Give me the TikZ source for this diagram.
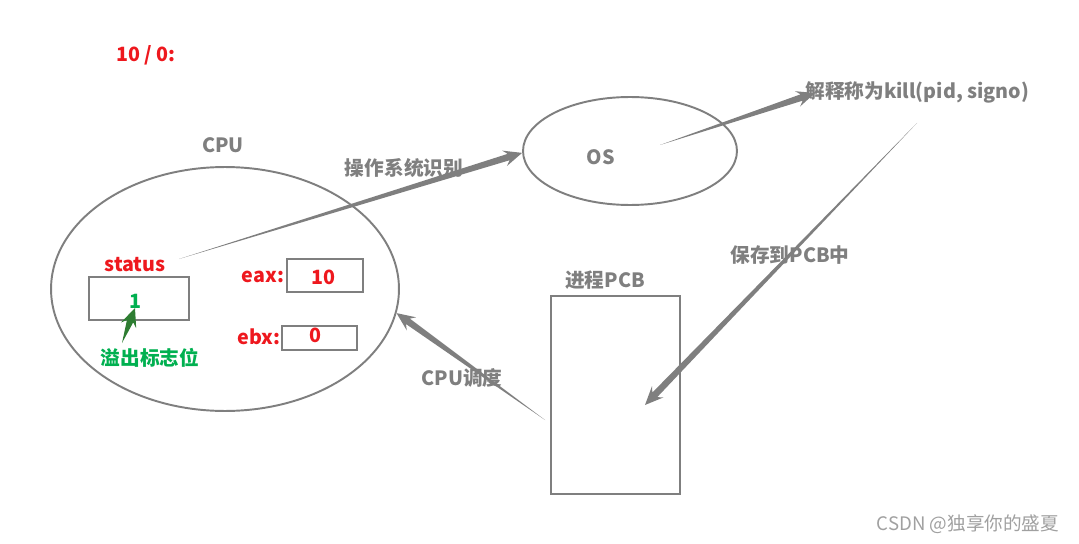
\documentclass[tikz,border=0pt]{standalone}
\usepackage{fontspec}
\setmainfont{Noto Sans CJK SC}
\usetikzlibrary{calc,shapes.geometric}

\definecolor{linegray}{RGB}{127,127,127}
\definecolor{markgray}{RGB}{160,160,160}
\definecolor{valred}{RGB}{238,24,30}
\definecolor{flaggreen}{RGB}{0,176,80}
\definecolor{arrowgreen}{RGB}{46,125,50}

\tikzset{
  lbl/.style={font=\bfseries\fontsize{11.2}{13}\selectfont, text=linegray, inner sep=0pt},
  reg/.style={lbl, text=valred},
  flag/.style={lbl, text=flaggreen},
  box/.style={draw=linegray, line width=1.6pt, inner sep=0pt},
  tarrow/.style={fill=linegray, to path={let \p1=($(\tikztotarget)-(\tikztostart)$), \n1={atan2(\y1,\x1)} in
    (\tikztostart) -- ($(\tikztotarget)+(\n1+90:1.9pt)+(\n1+180:8pt)$)
    -- ($(\tikztotarget)+(\n1+90:4.6pt)+(\n1+180:10.5pt)$) -- (\tikztotarget)
    -- ($(\tikztotarget)+(\n1-90:4.6pt)+(\n1+180:10.5pt)$)
    -- ($(\tikztotarget)+(\n1-90:1.9pt)+(\n1+180:8pt)$) -- cycle}},
}

\begin{document}
\begin{tikzpicture}[x=0.02cm, y=-0.02cm]
\useasboundingbox (0,0) rectangle (1079,544);

% cpu with its registers
\node[box, ellipse, line width=1.1pt, minimum width=6.96cm, minimum height=4.88cm] (cpu) at (225,289) {};
\node[lbl] (cpulbl) at (223,145) {CPU};
\node[reg] (status) at (135,265) {status};
\node[box, minimum width=2cm, minimum height=0.86cm] (statbox) at (139,298.5) {};
\node[flag] (flagval) at (135,301) {1};
\node[reg] (eaxlbl) at (263,277) {eax:};
\node[box, minimum width=1.52cm, minimum height=0.66cm] (eaxbox) at (325,275.5) {};
\node[reg] (eaxval) at (323,277) {10};
\node[reg] (ebxlbl) at (259,337) {ebx:};
\node[box, minimum width=1.5cm, minimum height=0.48cm] (ebxbox) at (319.5,338) {};
\node[reg] (ebxval) at (315,335) {0};
\node[flag] (flaglbl) at (150,358) {溢出标志位};

% os, pcb and labels
\node[box, ellipse, line width=1.1pt, minimum width=4.28cm, minimum height=2.16cm] (os) at (630,151) {};
\node[lbl] (oslbl) at (601,157) {OS};
\node[lbl, anchor=west] (kill) at (805,92) {解释称为kill(pid, signo)};
\node[box, minimum width=2.58cm, minimum height=3.96cm] (pcb) at (615.5,395) {};
\node[lbl] (pcblbl) at (605,280) {进程PCB};
\node[lbl] (idlbl) at (404,168) {操作系统识别};
\node[lbl] (savelbl) at (790,255) {保存到PCB中};
\node[lbl] (schedlbl) at (462,378) {CPU调度};
\node[reg] (divlbl) at (146,55) {10 / 0:};
\node[font=\fontsize{10.6}{12}\selectfont, text=markgray, inner sep=0pt] (mark) at (968,524) {CSDN @独享你的盛夏};

% free ends of the arrows
\coordinate (statout) at (179,259);
\coordinate (osout) at (660,145);
\coordinate (killin) at (815,93);
\coordinate (killout) at (917,123);
\coordinate (pcbin) at (645,405);
\coordinate (pcbout) at (545,420);
\coordinate (flagout) at (122,343);
\coordinate (flagin) at (135,308);

\path[tarrow] (statout) to (os.181);
\path[tarrow] (osout) to (killin);
\path[tarrow] (killout) to (pcbin);
\path[tarrow] (pcbout) to (cpu.-8);
\path[tarrow, fill=arrowgreen] (flagout) to (flagin);
\end{tikzpicture}
\end{document}
